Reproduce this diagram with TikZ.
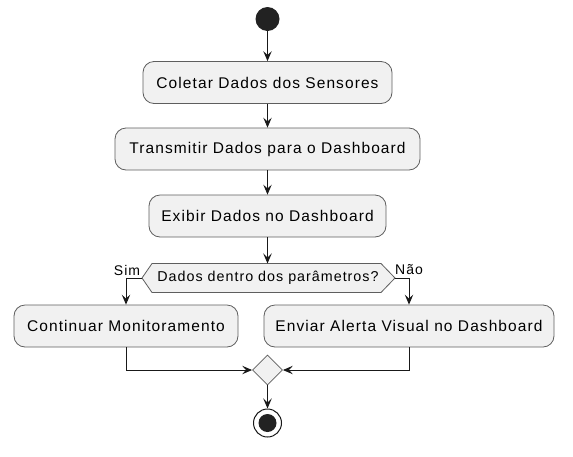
\documentclass[tikz,border=0pt]{standalone}
\usepackage{fontspec}
\setmainfont{Liberation Sans}[LetterSpace=7]
\usepackage{tikz}
\usetikzlibrary{arrows.meta,shapes.geometric}
\definecolor{actfill}{HTML}{F1F1F1}
\definecolor{actline}{HTML}{5E5E5E}
\definecolor{dotfill}{HTML}{222222}

\begin{document}
\begin{tikzpicture}[x=1pt,y=-1pt,
  act/.style={draw=actline, fill=actfill, line width=0.8pt, rounded corners=11pt,
    minimum height=42pt, inner sep=0pt, font=\fontsize{15.5}{18}\selectfont},
  flow/.style={draw=black!90, line width=1pt, -{Stealth[length=10pt,width=8.5pt,inset=4pt]}},
  lbl/.style={font=\fontsize{14}{16}\selectfont, inner sep=0pt},]
  \useasboundingbox (0,0) rectangle (573,456);
  \node[circle, fill=dotfill, minimum size=24pt, inner sep=0pt] (start) at (267.5,19) {};
  \node[act, minimum width=249pt] (collect) at (267.5,82.5) {Coletar Dados dos Sensores};
  \node[act, minimum width=305pt] (send) at (267.5,149) {Transmitir Dados para o Dashboard};
  \node[act, minimum width=237pt] (show) at (267.5,216) {Exibir Dados no Dashboard};
  % decision
  \draw[draw=actline, fill=actfill, line width=0.8pt]
    (142,278) -- (152,263.5) -- (381,263.5) -- (395,278) -- (381,292.5) -- (152,292.5) -- cycle;
  \node[font=\fontsize{14.3}{17}\selectfont, inner sep=0pt] (check) at (268,278) {Dados dentro dos parâmetros?};
  \coordinate (checkN) at (267.5,263.5);
  \coordinate (checkW) at (142,278);
  \coordinate (checkE) at (395,278);
  \node[lbl] (yes) at (127,270) {Sim};
  \node[lbl] (no) at (409,270) {Não};
  \node[act, minimum width=224pt] (keep) at (126,326) {Continuar Monitoramento};
  \node[act, minimum width=290pt] (alert) at (409,326) {Enviar Alerta Visual no Dashboard};
  \node[diamond, draw=actline, fill=actfill, line width=0.8pt, minimum width=30pt,
    minimum height=30pt, inner sep=0pt] (merge) at (267.5,370) {};
  \node[circle, draw=black!90, fill=white, line width=1pt, minimum size=28pt, inner sep=0pt] (stop) at (267.5,423) {};
  \node[circle, fill=dotfill, minimum size=18pt, inner sep=0pt] at (stop) {};

  \draw[flow] (start) -- (collect);
  \draw[flow] (collect) -- (send);
  \draw[flow] (send) -- (show);
  \draw[flow] (show) -- (checkN);
  \draw[flow] (checkW) -| (keep);
  \draw[flow] (checkE) -| (alert);
  \draw[flow] (keep) |- (merge);
  \draw[flow] (alert) |- (merge);
  \draw[flow] (merge) -- (stop);
\end{tikzpicture}
\end{document}
